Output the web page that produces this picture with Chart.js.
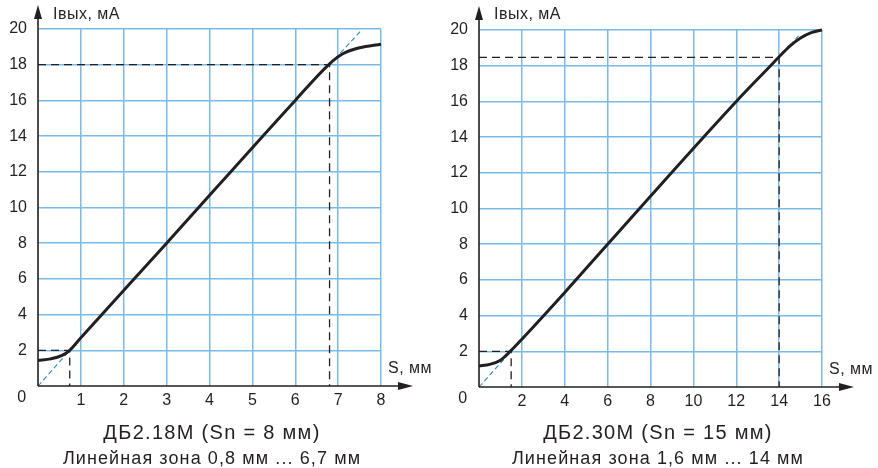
<!DOCTYPE html>
<html>
<head>
<meta charset="utf-8">
<script src="https://cdn.jsdelivr.net/npm/chart.js@4.4.1/dist/chart.umd.min.js"></script>
<style>
  body { margin: 0; background: #fff; width: 878px; height: 468px; overflow: hidden; position: relative; font-family: "Liberation Sans", Arial, sans-serif; color: #231f20; }
  .box { position: absolute; top: 0; width: 440px; height: 468px; }
  .cap { position: absolute; text-align: center; white-space: nowrap; line-height: 1; }
  .cap1 { top: 422px; font-size: 20px; letter-spacing: 1.3px; }
  .cap2 { top: 449px; font-size: 18px; letter-spacing: 1.1px; }
</style>
</head>
<body>
<div class="box" style="left:0"><canvas id="left" width="440" height="468"></canvas></div>
<div class="box" style="left:438px"><canvas id="right" width="440" height="468"></canvas></div>
<div class="cap cap1" style="left:0;width:424px">ДБ2.18М (Sn = 8 мм)</div>
<div class="cap cap2" style="left:0;width:424px">Линейная зона 0,8 мм ... 6,7 мм</div>
<div class="cap cap1" style="left:438px;width:440px">ДБ2.30М (Sn = 15 мм)</div>
<div class="cap cap2" style="left:438px;width:440px">Линейная зона 1,6 мм ... 14 мм</div>
<script>
// tick labels
const yTicks = [2, 4, 6, 8, 10, 12, 14, 16, 18, 20];
const xTicksLeft = [1, 2, 3, 4, 5, 6, 7, 8];
const xTicksRight = [2, 4, 6, 8, 10, 12, 14, 16];

// ДБ2.18М curve
const leftS = [0, 0.3, 0.55, 0.74, 1, 3, 6, 6.8, 7.1, 7.5, 8];
const leftI = [1.43, 1.52, 1.7, 2.0, 2.7, 8, 16, 18.05, 18.6, 18.95, 19.15];
// guide lines (dashed)
const leftGuideHiS = [0, 6.8, 6.8];
const leftGuideHiI = [18, 18, 0];
const leftGuideLoS = [0, 0.74, 0.74];
const leftGuideLoI = [2, 2, 0];
const leftLinLoS = [0, 0.74];
const leftLinLoI = [0, 2];
const leftLinHiS = [6.8, 7.52];
const leftLinHiI = [18, 19.87];

// ДБ2.30М curve
const rightS = [0, 0.5, 1, 1.5, 2, 4, 6, 12, 13.6, 14, 14.5, 15, 15.5, 16];
const rightI = [1.18, 1.27, 1.5, 2.05, 2.68, 5.3, 8, 16, 18, 18.5, 19.1, 19.55, 19.85, 20];
const rightGuideHiS = [0, 14, 14];
const rightGuideHiI = [18.47, 18.47, 0];
const rightGuideLoS = [0, 1.5, 1.5];
const rightGuideLoI = [2, 2, 0];
const rightLinLoS = [0, 1.5];
const rightLinLoI = [0, 2];
const rightLinHiS = [14, 15];
const rightLinHiI = [18.47, 19.8];

const INK = '#231f20';
const GRID = '#78bbe8';
const FONT = '"Liberation Sans", Arial, sans-serif';

function pts(xs, ys) {
    return xs.map((v, i) => ({x: v, y: ys[i]}));
}

// axes with arrows and axis captions
const axesPlugin = {
    id: 'axes',
    afterDatasetsDraw(chart) {
        const ctx = chart.ctx;
        const a = chart.chartArea;
        const x0 = chart.scales.x.getPixelForValue(0);
        const y0 = chart.scales.y.getPixelForValue(0);
        ctx.save();
        ctx.strokeStyle = INK;
        ctx.fillStyle = INK;
        ctx.lineWidth = 1.6;
        ctx.beginPath();
        ctx.moveTo(x0, y0);
        ctx.lineTo(x0, a.top - 14);
        ctx.moveTo(x0, y0);
        ctx.lineTo(a.right + 20, y0);
        ctx.stroke();
        // arrow heads
        ctx.beginPath();
        ctx.moveTo(x0, a.top - 24);
        ctx.lineTo(x0 - 4, a.top - 10);
        ctx.lineTo(x0 + 4, a.top - 10);
        ctx.closePath();
        ctx.fill();
        ctx.beginPath();
        ctx.moveTo(a.right + 32, y0);
        ctx.lineTo(a.right + 17, y0 - 4);
        ctx.lineTo(a.right + 17, y0 + 4);
        ctx.closePath();
        ctx.fill();
        ctx.font = '16px ' + FONT;
        ctx.letterSpacing = '0.5px';
        ctx.textBaseline = 'middle';
        ctx.textAlign = 'left';
        ctx.fillText('Iвых, мА', x0 + 15, 15);
        ctx.fillText('S, мм', a.right + 7, y0 - 17);
        ctx.textAlign = 'center';
        ctx.fillText('0', x0 - 16, y0 + 12);
        ctx.restore();
    }
};

function makeChart(id, xMax, xTicks, curve, guides, lins, pad) {
    const dashed = guides.map(g => ({
        data: g,
        borderColor: INK,
        borderWidth: 1.3,
        borderDash: [8, 5],
        pointRadius: 0,
        tension: 0,
        clip: false
    }));
    const blue = lins.map(g => ({
        data: g,
        borderColor: '#2a8ad4',
        borderWidth: 1.1,
        borderDash: [5, 3],
        pointRadius: 0,
        tension: 0,
        clip: false
    }));
    return new Chart(document.getElementById(id), {
        type: 'line',
        data: {
            datasets: [
                {
                    data: curve,
                    borderColor: INK,
                    borderWidth: 3,
                    pointRadius: 0,
                    cubicInterpolationMode: 'monotone',
                    clip: false
                },
                ...dashed,
                ...blue
            ]
        },
        options: {
            responsive: false,
            animation: false,
            parsing: false,
            layout: {padding: {top: pad.top, right: pad.right, left: 0, bottom: 0}},
            plugins: {legend: {display: false}, tooltip: {enabled: false}},
            scales: {
                x: {
                    type: 'linear',
                    min: 0,
                    max: xMax,
                    afterBuildTicks: s => { s.ticks = xTicks.map(v => ({value: v})); },
                    afterFit: s => { s.height = pad.bottom; },
                    grid: {color: GRID, lineWidth: 1.5, drawTicks: false},
                    border: {display: false},
                    ticks: {color: INK, padding: 5, font: {family: FONT, size: 16}, maxRotation: 0}
                },
                y: {
                    type: 'linear',
                    min: 0,
                    max: 20,
                    afterBuildTicks: s => { s.ticks = yTicks.map(v => ({value: v})); },
                    afterFit: s => { s.width = pad.left; },
                    grid: {color: GRID, lineWidth: 1.5, drawTicks: false},
                    border: {display: false},
                    ticks: {color: INK, padding: 11, font: {family: FONT, size: 16}}
                }
            }
        },
        plugins: [axesPlugin]
    });
}

makeChart('left', 8, xTicksLeft, pts(leftS, leftI),
    [pts(leftGuideHiS, leftGuideHiI), pts(leftGuideLoS, leftGuideLoI)],
    [pts(leftLinLoS, leftLinLoI), pts(leftLinHiS, leftLinHiI)],
    {top: 29, right: 59, left: 38, bottom: 82});

makeChart('right', 16, xTicksRight, pts(rightS, rightI),
    [pts(rightGuideHiS, rightGuideHiI), pts(rightGuideLoS, rightGuideLoI)],
    [pts(rightLinLoS, rightLinLoI), pts(rightLinHiS, rightLinHiI)],
    {top: 30, right: 56, left: 41, bottom: 81});
</script>
</body>
</html>
